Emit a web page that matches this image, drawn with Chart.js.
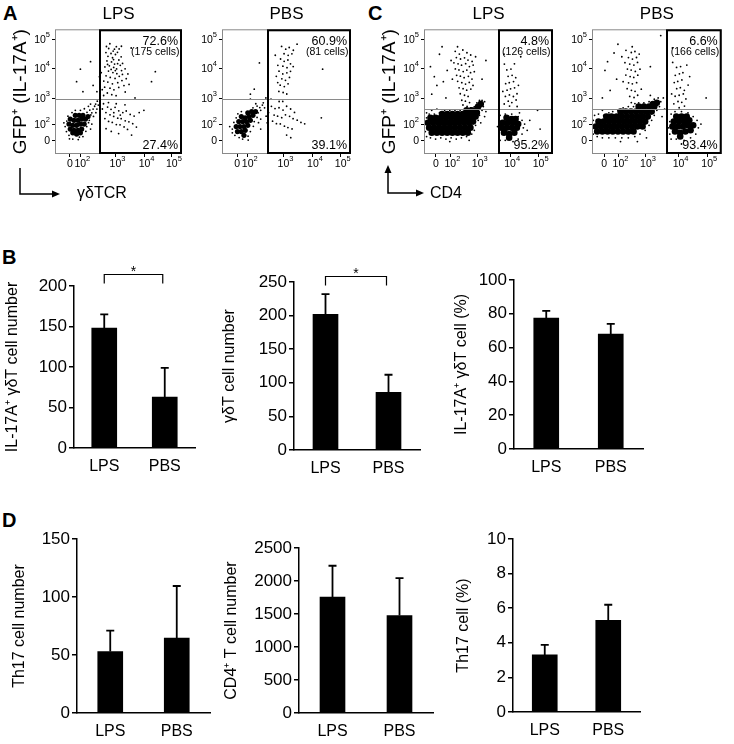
<!DOCTYPE html>
<html>
<head>
<meta charset="utf-8">
<script src="https://cdn.jsdelivr.net/npm/chart.js@4.4.1/dist/chart.umd.min.js"></script>
<style>
  body { margin: 0; background: #fff; font-family: "Liberation Sans", Arial, sans-serif; }
  #fig { position: relative; width: 734px; height: 744px; overflow: hidden; }
  canvas, svg, .lbl { position: absolute; }
  .panel { position: absolute; font-weight: bold; font-size: 20px; line-height: 20px; }
  .lbl { font-size: 16px; line-height: 16px; white-space: nowrap; }
</style>
</head>
<body>
<div id="fig">
  <div class="panel" style="left:3px;top:3px">A</div>
  <div class="panel" style="left:368px;top:3px">C</div>
  <div class="panel" style="left:2px;top:247px">B</div>
  <div class="panel" style="left:2px;top:510px">D</div>

  <canvas id="fA1" width="188" height="180" style="left:0;top:0"></canvas>
  <canvas id="fA2" width="165" height="180" style="left:190px;top:0"></canvas>
  <canvas id="fC1" width="195" height="180" style="left:362px;top:0"></canvas>
  <canvas id="fC2" width="174" height="180" style="left:560px;top:0"></canvas>

  <svg width="734" height="210" style="left:0;top:0" fill="#000" stroke="#000">
    <path d="M20 168 V194 H54" fill="none" stroke-width="1.5"/>
    <polygon points="60,194 52,190.5 52,197.5" stroke="none"/>
    <path d="M388 172 V193 H418" fill="none" stroke-width="1.5"/>
    <polygon points="388,165 384.5,173 391.5,173" stroke="none"/>
    <polygon points="424,193 416,189.5 416,196.5" stroke="none"/>
  </svg>
  <div class="lbl" style="left:77px;top:185px">γδTCR</div>
  <div class="lbl" style="left:430px;top:185px">CD4</div>

  <canvas id="b1" width="210" height="245" style="left:0;top:245px"></canvas>
  <canvas id="b2" width="225" height="245" style="left:215px;top:245px"></canvas>
  <canvas id="b3" width="289" height="245" style="left:445px;top:245px"></canvas>
  <canvas id="d1" width="215" height="244" style="left:0;top:500px"></canvas>
  <canvas id="d2" width="230" height="244" style="left:215px;top:500px"></canvas>
  <canvas id="d3" width="289" height="244" style="left:445px;top:500px"></canvas>
</div>

<script>
// ---- flow plots: channel units 0-100 on the biexponential display ----
const flowYTicks = [10.6, 23.5, 44.3, 68.4, 91.5];
const gdXTicks = [11.8, 19.9, 47.6, 70.5, 92];
const cd4XTicks = [9.3, 20.4, 41.6, 66.7, 88.8];
const tickBase = ['0', '10', '10', '10', '10'];
const tickExp = ['', '2', '3', '4', '5'];

const gdGate = [35.5, 43.9];
const cd4Gate = [58.2, 35.7];

const aLpsText = ['72.6%', '(175 cells)', '27.4%'];
const aPbsText = ['60.9%', '(81 cells)', '39.1%'];
const cLpsText = ['4.8%', '(126 cells)', '95.2%'];
const cPbsText = ['6.6%', '(166 cells)', '93.4%'];

// A, LPS
const aLpsCore = [[12,20],[15,19],[18,19],[21,20],[11,24],[14,23],[17,23],[20,24],[23,24],[12,28],[15,27],[18,27],
  [21,28],[24,28],[16,31],[19,31],[22,31],[14,17],[17,16],[20,17],[26,30]];
const aLpsDots = [[8,22],[9.3,26.4],[9,18],[10.2,30.3],[11,15],[13.4,33.2],[16,35],[19.2,13.6],[22,14],[24.3,18.2],
  [25,22],[26.4,25.1],[27,27],[28.2,31.3],[29,33],[27.4,35.2],[30,36],[31.2,38.3],[32,40],[33.3,42.4],[34.1,39.2],
  [30.3,30.1],[29,24],[25.2,33.4],[20,35],[23.1,36.3],[7,25],[11.4,12.2],[14,12],[18.3,11.6],[28,20],[32.2,33.1],
  [33,36],[35.3,45.2],[28,40],[26.3,38.2],
  [40.5,86.2],[43.2,88.4],[46.8,84.1],[44.1,80.6],[41.7,78.3],[45.3,77.2],[47.6,79.8],[49.2,81.5],[40.9,74.6],
  [44.5,73.8],[46.9,72.1],[50.3,75.4],[52.1,77.9],[42.8,70.7],[46.2,69.4],[48.5,68.2],[51.4,71.1],[39.3,69.8],
  [42.1,66.5],[45.6,65.3],[48.7,64.4],[52.4,66.9],[55.2,68.3],[40.2,62.7],[43.5,61.4],[47.3,60.6],[50.6,62.3],
  [53.1,63.8],[38.4,58.5],[41.6,57.7],[45.2,56.3],[49.4,57.2],[52.7,58.9],[56.1,60.4],[39.1,53.6],[43.3,52.8],
  [46.4,51.5],[50.2,53.4],[54.3,54.9],[41.2,48.9],[44.7,47.6],[48.1,46.8],[38.3,46.9],[57.4,64.2],[45.8,82.5],
  [48.3,86.1],[42.3,84.6],[50.5,84.3],[46.1,75.7],[49.3,72.4],[44.2,67.8],[47.5,66.9],[41.4,71.8],[53.2,72.6],
  [58.3,55.8],[36.4,65.2],[37.2,51.6],[55.3,49.7],[40.1,81.3],[52.3,86.4],
  [38.2,40.3],[41.4,37.6],[44.1,35.8],[47.3,37.4],[50.2,34.6],[53.4,33.2],[56.1,34.5],[59.2,31.7],[62.3,30.4],
  [40.1,33.2],[43.3,31.4],[46.2,30.1],[49.4,28.7],[52.1,28.3],[55.3,26.6],[58.2,25.8],[45.1,25.3],[48.3,23.6],
  [51.2,23.4],[54.4,21.7],[42.2,26.1],[39.3,28.4],[57.1,19.7],[61.2,24.3],[64.1,21.6],[66.3,33.2],[40.2,20.3],
  [44.3,18.1],[50.1,16.4],[60.3,15.2],[37.3,36.1],[42.1,41.2],[48.2,40.3],[55.1,39.4],[46.3,33.1],[51.4,31.2],
  [20,68],[28,74],[79,66],[76,58],[17,58],[30,55],[33,50],[60,85],[35,62],[22,50],[63,45],[70,35]];

// A, PBS
const aPbsCore = [[12,18],[15,18],[18,19],[11,22],[14,22],[17,22],[20,23],[13,26],[16,26],[19,26],[22,27],[15,30],
  [18,29],[21,30],[24,31],[20,33],[23,34],[26,34],[17,15]];
const aPbsDots = [[8,20],[9.2,25.3],[10,15],[13.3,13.2],[16,12],[20.2,14.3],[22,18],[24.3,22.2],[25,26],[27.2,29.3],
  [28,33],[29.3,37.2],[30,35],[27.2,38.4],[24,37],[31.3,39.2],[32,41],[26.2,40.3],[11,29],[12.3,32.2],[15,34],
  [8,17],[20.3,11.2],[33,37],[34.2,30.3],[30,28],[28.3,25.1],[6,22],
  [46.2,86.3],[49.4,84.1],[52.1,85.4],[55.3,83.2],[48.1,80.4],[51.3,79.1],[54.2,80.3],[45.4,76.2],[48.2,74.3],
  [51.1,75.4],[43.3,71.1],[47.2,70.4],[50.4,69.2],[53.1,72.3],[44.2,66.4],[47.1,64.2],[50.3,65.1],[46.4,60.3],
  [49.2,59.1],[52.3,61.4],[45.1,55.2],[48.3,54.1],[51.2,56.3],[44.1,50.2],[47.4,49.3],[50.2,48.1],[42.1,62.3],
  [55.2,70.1],[41.3,79.2],[53.1,66.3],[58.2,88.1],[43.2,57.3],
  [38.3,38.2],[41.1,36.4],[44.2,37.1],[47.3,35.2],[50.1,38.3],[53.2,36.1],[40.4,31.2],[43.1,30.3],[46.3,29.1],
  [49.2,31.4],[52.4,30.2],[55.1,28.3],[58.3,27.1],[61.2,25.3],[64.1,24.2],[45.2,24.1],[48.4,22.3],[51.1,21.2],
  [54.3,20.1],[42.2,24.3],[50.1,15.2],[53.3,13.1],[39.2,26.3],[36.1,33.2],[56.2,33.3],[47.1,42.2],[44.3,42.1],
  [29,73],[78,68],[77,29],[22,48],[25,52],[34,45],[22,44],[35,25],[38,44],[30,20]];

// C, LPS
const cLpsCore = [[6,17],[10,17],[14,17],[18,17],[22,17],[26,17],[30,17],[34,17],
  [4,21],[8,21],[12,21],[16,21],[20,21],[24,21],[28,21],[32,21],[36,21],
  [3,25],[7,25],[11,25],[15,25],[19,25],[23,25],[27,25],[31,25],[35,25],[38,26],
  [5,29],[9,29],[13,29],[17,29],[21,29],[25,29],[29,29],[33,29],[37,29],[40,30],
  [14,32],[18,32],[22,32],[26,32],[30,32],[34,32],[38,33],[41,33],[40,35],[42,38],[44,40],[37,35],[33,35],
  [62,17],[66,16],[70,17],[60,21],[64,21],[68,21],[72,21],[61,25],[65,25],[69,25],[73,24],[64,29],[68,28],[71,28],[66,13]];
const cLpsDots = [[1,18],[1,24],[2,29],[2,14],[5,13],[9,12],[13,13],[17,12],[21,13],[25,12],[29,13],[33,14],[37,16],
  [39,19],[40,23],[42,27],[43,31],[45,35],[46,38],[47,42],[45,43],[43,43],[41,41],[39,38],[36,37],[32,36],[28,35],
  [24,35],[20,35],[16,35],[12,33],[8,32],[4,32],[2,33],[10,36],[6,35],[20,10],[35,11],[44,25],[47,30],[48,34],
  [24.2,82.3],[27.4,80.1],[30.1,83.4],[33.3,81.2],[36.2,79.4],[25.1,77.3],[28.3,76.2],[31.4,77.1],[34.1,75.3],
  [37.3,74.2],[23.2,73.1],[26.4,72.3],[29.1,71.2],[32.3,72.4],[35.2,70.1],[38.1,71.3],[24.3,68.2],[27.1,67.4],
  [30.4,66.1],[33.2,67.3],[36.1,65.2],[25.3,63.1],[28.2,62.4],[31.1,61.2],[34.4,62.3],[37.2,60.1],[26.1,58.3],
  [29.3,57.2],[32.2,56.1],[35.1,57.4],[27.2,53.1],[30.3,52.4],[33.1,51.2],[36.3,52.1],[28.1,48.3],[31.4,47.1],
  [34.2,46.2],[29.3,43.1],[32.1,42.4],[35.3,41.2],[30.2,39.3],[33.4,38.1],[22,60],[39,66],[21,75],[38,55],[26,86],[40,78],
  [8,62],[10,55],[6,48],[15,58],[12,80],[5,70],[17,45],[14,86],[45,60],[48,75],[18,67],
  [58,15],[58,27],[59,31],[63,32],[68,32],[73,30],[76,27],[77,21],[76,16],[73,12],[69,10],[63,11],[59,11],[57,22],
  [78,24],[80,19],[82,27],[74,33],
  [62.2,40.1],[65.3,42.4],[68.1,41.2],[71.4,43.3],[63.1,46.2],[66.2,47.4],[69.3,46.1],[72.1,48.3],[64.4,51.2],
  [67.1,52.3],[70.2,53.1],[63.3,56.4],[66.1,57.2],[69.4,58.1],[65.2,62.3],[68.3,63.1],[71.1,61.2],[64.2,67.4],
  [67.4,68.1],[70.1,72.3],[62.3,72.1],[73.2,55.1],[61.1,50.2],[66.3,38.4],[72.2,38.1],
  [90,20],[88,35],[62,80],[75,78]];

// C, PBS
const cPbsCore = [[4,18],[8,18],[12,18],[16,18],[20,18],[24,18],[28,18],[32,18],
  [3,22],[7,22],[11,22],[15,22],[19,22],[23,22],[27,22],[31,22],[35,22],[39,22],
  [5,26],[9,26],[13,26],[17,26],[21,26],[25,26],[29,26],[33,26],[37,26],[41,26],
  [11,30],[15,30],[19,30],[23,30],[27,30],[31,30],[35,30],[39,30],[43,30],
  [22,34],[26,34],[30,34],[34,34],[38,34],[42,34],[46,34],[36,38],[40,38],[44,38],[48,38],[50,41],[47,40],
  [64,18],[68,17],[72,18],[76,19],[62,22],[66,22],[70,22],[74,23],[78,23],[63,26],[67,26],[71,26],[75,27],
  [65,30],[69,30],[73,30],[68,14]];
const cPbsDots = [[1,16],[1,21],[1,27],[2,31],[5,32],[9,31],[4,14],[8,13],[13,13],[18,13],[23,13],[28,13],[33,14],
  [37,16],[41,19],[44,23],[46,27],[48,31],[50,35],[52,38],[53,42],[51,45],[48,44],[44,42],[40,41],[36,41],[32,38],
  [28,38],[24,37],[20,35],[16,34],[13,33],[8,35],[22,10],[35,10],[42,13],[54,30],[56,36],[55,45],[45,47],
  [26.2,83.1],[30.3,81.4],[33.1,82.2],[36.4,80.1],[28.1,77.3],[31.2,76.1],[34.3,77.4],[25.4,73.2],[29.1,72.1],
  [32.3,71.3],[35.1,73.4],[27.3,68.1],[30.2,67.3],[33.4,66.2],[26.1,63.3],[29.4,62.1],[32.2,61.4],[35.3,63.2],
  [28.2,57.1],[31.1,56.3],[34.4,57.2],[27.1,52.4],[30.4,51.1],[33.2,50.3],[29.1,46.2],[32.4,45.3],[35.2,47.1],
  [30.3,41.2],[33.1,40.4],[37,68],[24,58],[38,52],[23,78],[31,86],
  [17,81],[10,67],[53,95],[14,51],[12,74],[19,60],[45,70],[8,45],[20,88],
  [60,16],[60,26],[61,32],[64,34],[69,34],[74,33],[78,30],[81,27],[82,21],[80,16],[76,13],[71,11],[65,12],[61,12],
  [59,21],[84,24],[69,8],
  [63.1,40.2],[66.3,42.1],[69.2,41.4],[72.4,44.2],[64.1,46.3],[67.2,47.1],[70.4,48.2],[65.3,52.4],[68.1,53.2],
  [71.2,51.1],[63.4,57.3],[66.1,58.2],[69.3,59.4],[64.2,63.1],[67.4,64.3],[70.1,65.2],[65.2,69.4],[68.3,70.1],
  [73.1,71.3],[62.2,73.4],[75.3,62.1],[61.4,48.2],[74.1,55.3],[67.2,37.1],[71.3,38.4],
  [88,45],[62,85]];

// ---- bar panels ----
const groups = ['LPS', 'PBS'];
const il17GdNum = [148, 63];
const il17GdNumSem = [17, 36];
const gdNum = [202, 86];
const gdNumSem = [30, 26];
const il17GdPct = [77.5, 68];
const il17GdPctSem = [4.2, 6];
const th17Num = [53, 64.5];
const th17NumSem = [18, 45];
const cd4Num = [1755, 1476];
const cd4NumSem = [476, 568];
const th17Pct = [3.3, 5.3];
const th17PctSem = [0.58, 0.9];

const FONT = '"Liberation Sans", Arial, sans-serif';
Chart.defaults.font.family = FONT;
Chart.defaults.color = '#000';

function flowDecor(o) {
  return {
    id: 'flowDecor',
    afterDraw(chart) {
      const { ctx, chartArea: a, scales: { x, y } } = chart;
      ctx.save();
      ctx.strokeStyle = '#8a8a8a';
      ctx.lineWidth = 1;
      ctx.strokeRect(a.left + 0.5, a.top + 0.5, a.width - 1, a.height - 1);
      const gy = Math.round(y.getPixelForValue(o.gate[1])) + 0.5;
      ctx.beginPath();
      ctx.moveTo(a.left, gy);
      ctx.lineTo(a.right, gy);
      ctx.stroke();
      const gx = Math.round(x.getPixelForValue(o.gate[0]));
      ctx.strokeStyle = '#000';
      ctx.lineWidth = 2;
      ctx.strokeRect(gx, a.top + 1, a.right - 1 - gx, a.height - 2);

      ctx.fillStyle = '#000';
      ctx.textAlign = 'right';
      ctx.textBaseline = 'middle';
      ctx.font = '12.5px ' + FONT;
      ctx.fillText(o.text[0], a.right - 4, a.top + 12.5);
      ctx.font = '10.5px ' + FONT;
      ctx.fillText(o.text[1], a.right - 2.5, a.top + 23);
      ctx.font = '12.5px ' + FONT;
      ctx.fillText(o.text[2], a.right - 4, a.bottom - 8);

      // tick labels with raised exponents
      const baseFont = '10.5px ' + FONT, expFont = '7.5px ' + FONT;
      flowYTicks.forEach((v, i) => {
        const py = y.getPixelForValue(v);
        ctx.font = expFont;
        const ew = ctx.measureText(tickExp[i]).width;
        ctx.textAlign = 'left';
        ctx.fillText(tickExp[i], a.left - 5 - ew, py - 5);
        ctx.font = baseFont;
        ctx.textAlign = 'right';
        ctx.fillText(tickBase[i], a.left - 5 - ew, py);
      });
      o.xTicks.forEach((v, i) => {
        const px = x.getPixelForValue(v);
        ctx.font = baseFont;
        const bw = ctx.measureText(tickBase[i]).width;
        ctx.textAlign = 'center';
        ctx.fillText(tickBase[i], px, a.bottom + 10);
        ctx.font = expFont;
        ctx.textAlign = 'left';
        ctx.fillText(tickExp[i], px + bw / 2, a.bottom + 5);
      });
      ctx.restore();
    }
  };
}

function makeFlow(id, o) {
  return new Chart(document.getElementById(id), {
    type: 'scatter',
    data: {
      datasets: [
        { data: o.core, pointRadius: o.coreRadius, backgroundColor: '#000', borderWidth: 0 },
        { data: o.dots, pointRadius: 0.9, backgroundColor: '#000', borderWidth: 0 }
      ]
    },
    options: {
      responsive: false,
      animation: false,
      events: [],
      layout: { padding: { left: 0, right: o.padRight, top: 0, bottom: 0 } },
      plugins: {
        legend: { display: false },
        tooltip: { enabled: false },
        title: {
          display: true, text: o.title, fullSize: false, color: '#000',
          font: { size: 17, weight: 'normal' }, padding: { top: 3.8, bottom: 5.1 }
        }
      },
      scales: {
        x: {
          type: 'linear', min: 0, max: 100,
          afterBuildTicks: s => { s.ticks = o.xTicks.map(v => ({ value: v })); },
          ticks: { display: false },
          grid: { drawOnChartArea: false, color: '#000', tickLength: 3 },
          border: { display: false },
          afterFit: s => { s.height = 26; }
        },
        y: {
          type: 'linear', min: 0, max: 100,
          afterBuildTicks: s => { s.ticks = flowYTicks.map(v => ({ value: v })); },
          ticks: { display: false },
          grid: { drawOnChartArea: false, color: '#000', tickLength: 3 },
          border: { display: false },
          title: o.yTitle
            ? { display: true, text: 'GFP\u207A (IL-17A\u207A)', color: '#000', font: { size: 19 }, padding: { top: o.yTitlePad, bottom: 0 } }
            : { display: false },
          afterFit: s => { s.width = o.yWidth; }
        }
      }
    },
    plugins: [flowDecor(o)]
  });
}

function barDecor(o) {
  return {
    id: 'barDecor',
    afterDatasetsDraw(chart) {
      const { ctx, scales: { y } } = chart;
      const meta = chart.getDatasetMeta(0);
      ctx.save();
      ctx.strokeStyle = '#000';
      ctx.lineWidth = 1.8;
      meta.data.forEach((bar, i) => {
        const top = y.getPixelForValue(o.values[i] + o.sem[i]);
        ctx.beginPath();
        ctx.moveTo(bar.x, bar.y);
        ctx.lineTo(bar.x, top);
        ctx.moveTo(bar.x - 4, top);
        ctx.lineTo(bar.x + 4, top);
        ctx.stroke();
      });
      if (o.bracket) {
        const by = Math.round(y.getPixelForValue(o.bracket.level)) + 0.5;
        const x1 = meta.data[0].x, x2 = meta.data[1].x - 2;
        ctx.lineWidth = 1.2;
        ctx.beginPath();
        ctx.moveTo(x1, by + o.bracket.drop);
        ctx.lineTo(x1, by);
        ctx.lineTo(x2, by);
        ctx.lineTo(x2, by + o.bracket.drop);
        ctx.stroke();
        ctx.fillStyle = '#000';
        ctx.font = '14px ' + FONT;
        ctx.textAlign = 'center';
        ctx.textBaseline = 'alphabetic';
        ctx.fillText('*', (x1 + x2) / 2, by + 1);
      }
      ctx.restore();
    }
  };
}

function makeBar(id, o) {
  return new Chart(document.getElementById(id), {
    type: 'bar',
    data: {
      labels: groups,
      datasets: [{ data: o.values, backgroundColor: '#000', barThickness: 25 }]
    },
    options: {
      responsive: false,
      animation: false,
      events: [],
      layout: { padding: { left: 0, right: o.padRight, top: o.padTop, bottom: 0 } },
      plugins: { legend: { display: false }, tooltip: { enabled: false } },
      scales: {
        x: {
          grid: { display: false, drawTicks: false },
          border: { color: '#000', width: 1.5 },
          ticks: { color: '#000', font: { size: 16 }, padding: 9 },
          afterFit: s => { s.height = o.xh; }
        },
        y: {
          min: 0, max: o.max,
          ticks: { stepSize: o.step, color: '#000', font: { size: 17 }, padding: 2, callback: v => String(v) },
          grid: { drawOnChartArea: false, color: '#000', lineWidth: 1.5, tickLength: 5 },
          border: { color: '#000', width: 1.5 },
          title: { display: true, text: o.title, color: '#000', font: { size: 16 }, padding: { top: o.titlePad, bottom: 0 } },
          afterFit: s => { s.width = o.yw; }
        }
      }
    },
    plugins: [barDecor(o)]
  });
}

makeFlow('fA1', { title: 'LPS', core: aLpsCore, dots: aLpsDots, coreRadius: 2.6, gate: gdGate, text: aLpsText,
  xTicks: gdXTicks, yWidth: 55, padRight: 6, yTitle: true, yTitlePad: 9.6 });
makeFlow('fA2', { title: 'PBS', core: aPbsCore, dots: aPbsDots, coreRadius: 2.6, gate: gdGate, text: aPbsText,
  xTicks: gdXTicks, yWidth: 32, padRight: 3.3 });
makeFlow('fC1', { title: 'LPS', core: cLpsCore, dots: cLpsDots, coreRadius: 3.3, gate: cd4Gate, text: cLpsText,
  xTicks: cd4XTicks, yWidth: 62, padRight: 3.7, yTitle: true, yTitlePad: 16.6 });
makeFlow('fC2', { title: 'PBS', core: cPbsCore, dots: cPbsDots, coreRadius: 3.3, gate: cd4Gate, text: cPbsText,
  xTicks: cd4XTicks, yWidth: 32, padRight: 12.3 });

makeBar('b1', { values: il17GdNum, sem: il17GdNumSem, max: 200, step: 50, title: 'IL-17A\u207A γδT cell number',
  yw: 74, padTop: 41, padRight: 15, xh: 42, titlePad: 3.4, bracket: { level: 215, drop: 9 } });
makeBar('b2', { values: gdNum, sem: gdNumSem, max: 250, step: 50, title: 'γδT cell number',
  yw: 79, padTop: 37, padRight: 20, xh: 40, titlePad: 5.4, bracket: { level: 259, drop: 9 } });
makeBar('b3', { values: il17GdPct, sem: il17GdPctSem, max: 100, step: 20, title: 'IL-17A\u207A γδT cell (%)',
  yw: 69, padTop: 35, padRight: 91, xh: 41, titlePad: 7.4 });
makeBar('d1', { values: th17Num, sem: th17NumSem, max: 150, step: 50, title: 'Th17 cell number',
  yw: 77, padTop: 39, padRight: 5, xh: 31, titlePad: 10.4 });
makeBar('d2', { values: cd4Num, sem: cd4NumSem, max: 2500, step: 500, title: 'CD4\u207A T cell number',
  yw: 84, padTop: 48, padRight: 12, xh: 31, titlePad: 7.4 });
makeBar('d3', { values: th17Pct, sem: th17PctSem, max: 10, step: 2, title: 'Th17 cell (%)',
  yw: 68, padTop: 39, padRight: 94, xh: 32, titlePad: 9.4 });
</script>
</body>
</html>
